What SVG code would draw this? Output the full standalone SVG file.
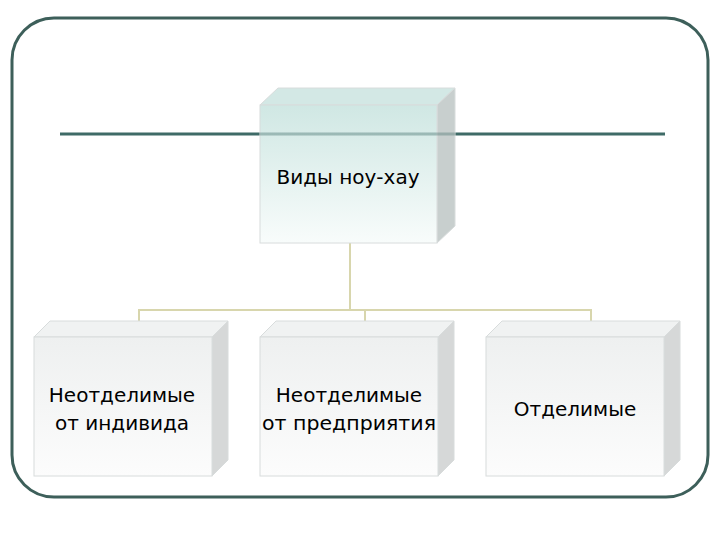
<svg xmlns="http://www.w3.org/2000/svg" width="720" height="540" viewBox="0 0 720 540">
<defs>
<linearGradient id="gTop" x1="0" y1="0" x2="0" y2="1"><stop offset="0" stop-color="#cde6e2"/><stop offset="1" stop-color="#f8fcfb"/></linearGradient>
<linearGradient id="gGray" x1="0" y1="0" x2="0" y2="1"><stop offset="0" stop-color="#eef0f0"/><stop offset="1" stop-color="#fcfcfc"/></linearGradient>
<style>
.t{font-family:"DejaVu Sans","Liberation Sans",sans-serif;font-size:20px;fill:#000;text-anchor:middle}
.c{stroke:#d8d6ad;stroke-width:2;fill:none}
.face{stroke:#d8dcdc;stroke-width:1}
</style>
</defs>
<rect width="720" height="540" fill="#fff"/>
<rect x="12" y="18" width="696" height="479" rx="42" fill="none" stroke="#3d5f5a" stroke-width="3"/>
<line x1="60" y1="134" x2="665" y2="134" stroke="#3f6b67" stroke-width="3"/>
<g id="connectors">
<path class="c" d="M350 243V310M139 321V310H591V321M365 310V321"/>
</g>
<g id="root">
<polygon points="260,105 278,88 455,88 437,105" fill="#d3e8e5" class="face"/>
<polygon points="437,105 455,88 455,226 437,243" fill="#c8cfce" class="face"/>
<rect x="260" y="105" width="177" height="138" fill="url(#gTop)" class="face" fill-opacity="0.95"/>
<line x1="260" y1="134" x2="455" y2="134" stroke="#3f6b67" stroke-width="3" opacity="0.35"/>
<text class="t" x="348" y="184">Виды ноу-хау</text>
</g>
<g id="n1">
<polygon points="34,337 50,321 228,321 212,337" fill="#f0f2f2" class="face"/>
<polygon points="212,337 228,321 228,460 212,476" fill="#d6d8d8" class="face"/>
<rect x="34" y="337" width="178" height="139" fill="url(#gGray)" class="face"/>
<text class="t" x="122" y="402">Неотделимые</text>
<text class="t" x="122" y="430">от индивида</text>
</g>
<g id="n2">
<polygon points="260,337 276,321 454,321 438,337" fill="#f0f2f2" class="face"/>
<polygon points="438,337 454,321 454,460 438,476" fill="#d6d8d8" class="face"/>
<rect x="260" y="337" width="178" height="139" fill="url(#gGray)" class="face"/>
<text class="t" x="349" y="402">Неотделимые</text>
<text class="t" x="349" y="430" textLength="174" lengthAdjust="spacingAndGlyphs">от предприятия</text>
</g>
<g id="n3">
<polygon points="486,337 502,321 680,321 664,337" fill="#f0f2f2" class="face"/>
<polygon points="664,337 680,321 680,460 664,476" fill="#d6d8d8" class="face"/>
<rect x="486" y="337" width="178" height="139" fill="url(#gGray)" class="face"/>
<text class="t" x="575" y="416">Отделимые</text>
</g>
</svg>
